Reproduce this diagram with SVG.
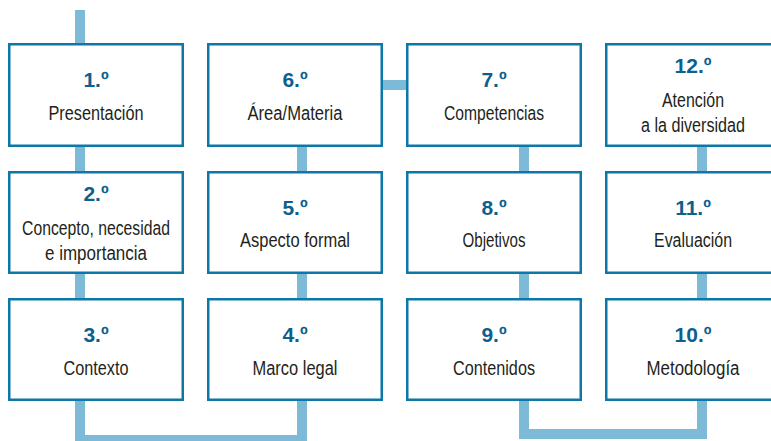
<svg xmlns="http://www.w3.org/2000/svg" width="771" height="441" viewBox="0 0 771 441">
<style>
.box{fill:#ffffff;stroke:#0d77a8;stroke-width:2.5}
.conn{fill:none;stroke:#7dbad8;stroke-width:10;stroke-linejoin:miter}
.num{font-family:"Liberation Sans Narrow","Liberation Sans",Arial,sans-serif;font-weight:bold;font-size:21px;fill:#0d5f8e;text-anchor:middle}
.lbl{font-family:"Liberation Sans Narrow","Liberation Sans",Arial,sans-serif;font-size:20px;fill:#231f20;text-anchor:middle}
</style>
<rect width="771" height="441" fill="#ffffff"/>
<g id="connectors">
<path class="conn" d="M80 10 V440 H302 V100"/>
<path class="conn" d="M380 85 H410"/>
<path class="conn" d="M524 100 V434 H702 V100"/>
</g>
<g id="n1"><rect class="box" x="9.25" y="44.25" width="173.5" height="101.5"/><text class="num" x="96" y="87">1.º</text><text class="lbl" x="96" y="120" textLength="95" lengthAdjust="spacingAndGlyphs">Presentación</text></g>
<g id="n2"><rect class="box" x="9.25" y="172.25" width="173.5" height="100.5"/><text class="num" x="96" y="201">2.º</text><text class="lbl" x="96" y="235" textLength="148" lengthAdjust="spacingAndGlyphs">Concepto, necesidad</text><text class="lbl" x="96" y="260" textLength="102" lengthAdjust="spacingAndGlyphs">e importancia</text></g>
<g id="n3"><rect class="box" x="9.25" y="299.25" width="173.5" height="100.5"/><text class="num" x="96" y="342">3.º</text><text class="lbl" x="96" y="375" textLength="65" lengthAdjust="spacingAndGlyphs">Contexto</text></g>
<g id="n4"><rect class="box" x="208.25" y="299.25" width="173.5" height="100.5"/><text class="num" x="295" y="342">4.º</text><text class="lbl" x="295" y="375" textLength="85" lengthAdjust="spacingAndGlyphs">Marco legal</text></g>
<g id="n5"><rect class="box" x="208.25" y="172.25" width="173.5" height="100.5"/><text class="num" x="295" y="215">5.º</text><text class="lbl" x="295" y="247" textLength="110" lengthAdjust="spacingAndGlyphs">Aspecto formal</text></g>
<g id="n6"><rect class="box" x="208.25" y="44.25" width="173.5" height="101.5"/><text class="num" x="295" y="87">6.º</text><text class="lbl" x="295" y="120" textLength="95" lengthAdjust="spacingAndGlyphs">Área/Materia</text></g>
<g id="n7"><rect class="box" x="407.25" y="44.25" width="173.5" height="101.5"/><text class="num" x="494" y="87">7.º</text><text class="lbl" x="494" y="120" textLength="100" lengthAdjust="spacingAndGlyphs">Competencias</text></g>
<g id="n8"><rect class="box" x="407.25" y="172.25" width="173.5" height="100.5"/><text class="num" x="494" y="215">8.º</text><text class="lbl" x="494" y="247" textLength="63" lengthAdjust="spacingAndGlyphs">Objetivos</text></g>
<g id="n9"><rect class="box" x="407.25" y="299.25" width="173.5" height="100.5"/><text class="num" x="494" y="342">9.º</text><text class="lbl" x="494" y="375" textLength="82" lengthAdjust="spacingAndGlyphs">Contenidos</text></g>
<g id="n10"><rect class="box" x="606.25" y="299.25" width="173.5" height="100.5"/><text class="num" x="693" y="342">10.º</text><text class="lbl" x="693" y="375" textLength="93" lengthAdjust="spacingAndGlyphs">Metodología</text></g>
<g id="n11"><rect class="box" x="606.25" y="172.25" width="173.5" height="100.5"/><text class="num" x="693" y="215">11.º</text><text class="lbl" x="693" y="247" textLength="78" lengthAdjust="spacingAndGlyphs">Evaluación</text></g>
<g id="n12"><rect class="box" x="606.25" y="44.25" width="173.5" height="101.5"/><text class="num" x="693" y="73">12.º</text><text class="lbl" x="693" y="107" textLength="62" lengthAdjust="spacingAndGlyphs">Atención</text><text class="lbl" x="693" y="132" textLength="104" lengthAdjust="spacingAndGlyphs">a la diversidad</text></g>
</svg>
